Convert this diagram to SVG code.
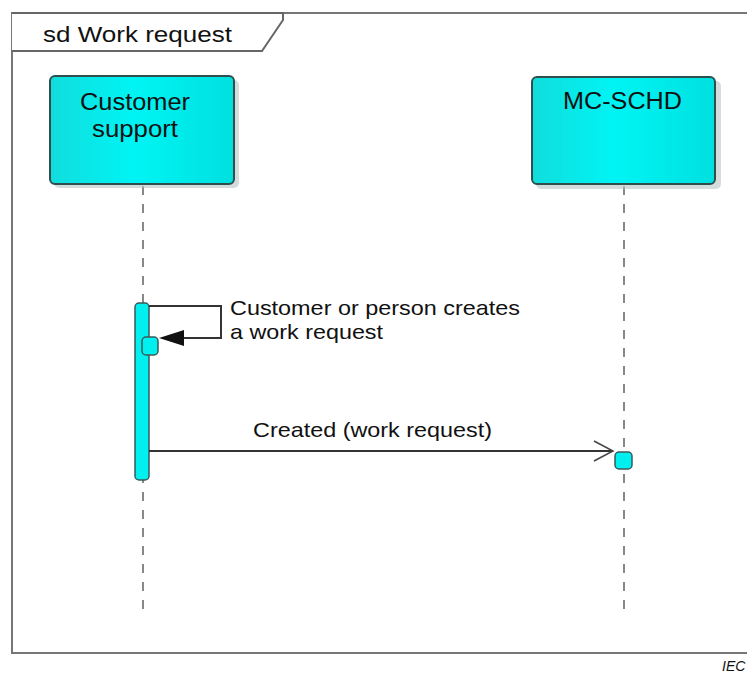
<svg xmlns="http://www.w3.org/2000/svg" width="747" height="675" viewBox="0 0 747 675">
<style>
text{font-family:"Liberation Sans",Arial,sans-serif;fill:#111}
.lbl{font-size:23px}
.title{font-size:22px}
.msg{font-size:21px}
.box{fill:url(#cy);stroke:#2f4f4f;stroke-width:2}
.shadow{fill:#b8c4c4;opacity:0.6}
.life{stroke:#888;stroke-width:2;stroke-dasharray:9 9;fill:none}
.act{fill:#00f0f0;stroke:#3a5a5a;stroke-width:1.5}
.line{stroke:#333;stroke-width:2;fill:none}
</style>
<defs>
<linearGradient id="cy" x1="0" y1="0" x2="1" y2="0">
<stop offset="0" stop-color="#12dcdc"/>
<stop offset="0.45" stop-color="#00f4f4"/>
<stop offset="1" stop-color="#00e0e0"/>
</linearGradient>
<marker id="open" markerWidth="22" markerHeight="22" refX="20" refY="11" orient="auto" markerUnits="userSpaceOnUse">
<path d="M1,1 L20,11 L1,21" fill="none" stroke="#444" stroke-width="1.5"/>
</marker>
</defs>
<g id="frame">
<path d="M747,13 L12,13 L12,653 L747,653" fill="none" stroke="#777" stroke-width="2"/>
<path d="M12,13 L283,13 L283,20 L262,51 L12,51" fill="#fff" stroke="#666" stroke-width="2"/>
<text x="43" y="42" class="title" textLength="189" lengthAdjust="spacingAndGlyphs">sd Work request</text>
</g>
<g id="lifelines">
<line class="life" x1="143" y1="186" x2="143" y2="610"/>
<line class="life" x1="624" y1="186" x2="624" y2="610"/>
</g>
<g id="customer-support">
<rect class="shadow" x="54" y="80" width="185" height="108" rx="5"/>
<rect class="box" x="50" y="76" width="184" height="108" rx="5"/>
<text x="80" y="110" class="lbl" textLength="110" lengthAdjust="spacingAndGlyphs">Customer</text>
<text x="92" y="137" class="lbl" textLength="86" lengthAdjust="spacingAndGlyphs">support</text>
</g>
<g id="mc-schd">
<rect class="shadow" x="536" y="81" width="185" height="108" rx="5"/>
<rect class="box" x="532" y="77" width="183" height="107" rx="5"/>
<text x="563" y="109" class="lbl" textLength="119" lengthAdjust="spacingAndGlyphs">MC-SCHD</text>
</g>
<g id="activations">
<rect class="act" x="135" y="303" width="14" height="177" rx="4"/>
<rect class="act" x="142" y="337" width="16" height="18" rx="4"/>
<rect class="act" x="615" y="452" width="17" height="17" rx="4"/>
</g>
<g id="connectors">
<path class="line" d="M149,306 L221,306 L221,338 L180,338"/>
<path d="M159,338 L184,330 L184,346 Z" fill="#111"/>
<line class="line" x1="149" y1="451" x2="613" y2="451" marker-end="url(#open)"/>
</g>
<g id="labels">
<text x="230" y="315" class="msg" textLength="290" lengthAdjust="spacingAndGlyphs">Customer or person creates</text>
<text x="230" y="339" class="msg" textLength="153" lengthAdjust="spacingAndGlyphs">a work request</text>
<text x="253" y="437" class="msg" textLength="239" lengthAdjust="spacingAndGlyphs">Created (work request)</text>
<text x="722" y="671" font-size="14" font-style="italic">IEC</text>
</g>
</svg>
